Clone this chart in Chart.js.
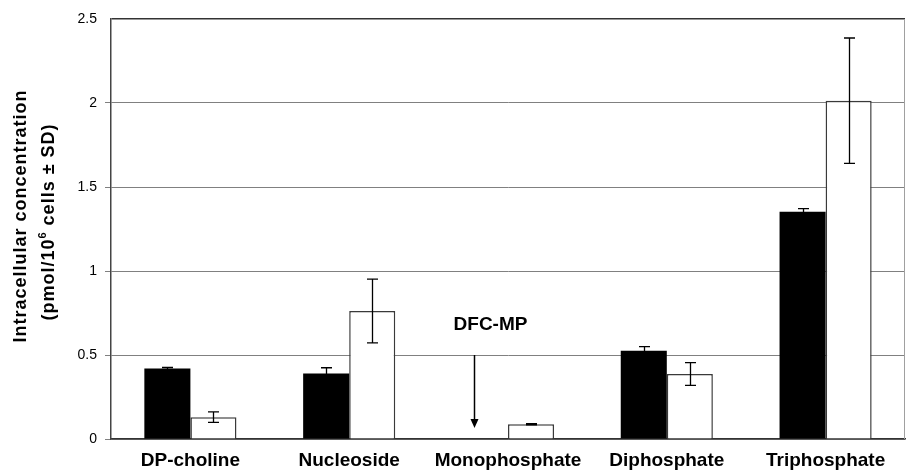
<!DOCTYPE html>
<html>
<head>
<meta charset="utf-8">
<script src="https://cdn.jsdelivr.net/npm/chart.js@4/dist/chart.umd.min.js"></script>
<style>
  html, body { margin: 0; padding: 0; background: #fff; }
  #wrap { width: 907px; height: 471px; position: relative; }
</style>
</head>
<body>
<div id="wrap"><canvas id="c" width="907" height="471"></canvas></div>
<script>
// ---- data ----
const categories = ['DP-choline', 'Nucleoside', 'Monophosphate', 'Diphosphate', 'Triphosphate'];
const blackValues = [0.42, 0.39, 0, 0.526, 1.353];
const blackErrors = [0.006, 0.034, 0, 0.024, 0.018];
const whiteValues = [0.13, 0.762, 0.088, 0.387, 2.014];
const whiteErrors = [0.031, 0.19, 0.004, 0.068, 0.373];
const yTickLabels = ['0', '0.5', '1', '1.5', '2', '2.5'];
const yTitleLine1 = 'Intracellular concentration';
const yTitleLine2 = ['(pmol/10', '6', ' cells \u00B1 SD)'];
const annotationText = 'DFC-MP';
const annotationCategory = 2;
const annotationArrowFrom = 0.5;
const annotationArrowTo = 0.065;
const annotationTextValue = 0.68;

const FONT = '"Liberation Sans", Arial, Helvetica, sans-serif';

const errorBarPlugin = {
  id: 'errorBars',
  afterDatasetsDraw(chart) {
    const ctx = chart.ctx;
    const y = chart.scales.y;
    const errs = [blackErrors, whiteErrors];
    const vals = [blackValues, whiteValues];
    ctx.save();
    ctx.strokeStyle = '#000';
    ctx.lineWidth = 1.3;
    errs.forEach((errArr, di) => {
      const meta = chart.getDatasetMeta(di);
      meta.data.forEach((bar, i) => {
        const e = errArr[i];
        if (!e) return;
        const v = vals[di][i];
        const x = Math.round(bar.x) + 0.5;
        const yt = y.getPixelForValue(v + e);
        const yb = y.getPixelForValue(v - e);
        const cap = 5.5;
        ctx.beginPath();
        ctx.moveTo(x, yt); ctx.lineTo(x, yb);
        ctx.moveTo(x - cap, yt); ctx.lineTo(x + cap, yt);
        ctx.moveTo(x - cap, yb); ctx.lineTo(x + cap, yb);
        ctx.stroke();
      });
    });
    ctx.restore();
  }
};

const decorPlugin = {
  id: 'decor',
  afterDraw(chart) {
    const ctx = chart.ctx;
    const xs = chart.scales.x;
    const ys = chart.scales.y;
    const area = chart.chartArea;
    ctx.save();
    // right border
    ctx.strokeStyle = '#a0a0a0';
    ctx.lineWidth = 1;
    ctx.beginPath();
    ctx.moveTo(area.right - 0.5, area.top);
    ctx.lineTo(area.right - 0.5, area.bottom);
    ctx.stroke();

    // annotation arrow
    const catW = xs.width / categories.length;
    const ax = Math.round(xs.getPixelForValue(annotationCategory) - 0.215 * catW) + 0.5;
    const y1 = ys.getPixelForValue(annotationArrowFrom);
    const y2 = ys.getPixelForValue(annotationArrowTo);
    ctx.strokeStyle = '#000';
    ctx.fillStyle = '#000';
    ctx.lineWidth = 1.5;
    ctx.beginPath();
    ctx.moveTo(ax, y1);
    ctx.lineTo(ax, y2 - 8);
    ctx.stroke();
    ctx.beginPath();
    ctx.moveTo(ax - 4, y2 - 9);
    ctx.lineTo(ax + 4, y2 - 9);
    ctx.lineTo(ax, y2);
    ctx.closePath();
    ctx.fill();

    // annotation text
    ctx.font = 'bold 19px ' + FONT;
    ctx.textAlign = 'center';
    ctx.textBaseline = 'middle';
    ctx.fillText(annotationText, ax + 16, ys.getPixelForValue(annotationTextValue));

    // y axis title (two lines, rotated)
    const midY = (area.top + area.bottom) / 2;
    ctx.font = 'bold 18px ' + FONT;
    try { ctx.letterSpacing = '1px'; } catch (e) {}
    ctx.save();
    ctx.translate(21, midY - 13);
    ctx.rotate(-Math.PI / 2);
    ctx.textAlign = 'center';
    ctx.textBaseline = 'middle';
    ctx.fillText(yTitleLine1, 0, 0);
    ctx.restore();

    ctx.save();
    ctx.translate(49, midY - 7);
    ctx.rotate(-Math.PI / 2);
    ctx.textAlign = 'left';
    ctx.textBaseline = 'middle';
    const mainFont = 'bold 18px ' + FONT;
    const supFont = 'bold 11px ' + FONT;
    ctx.font = mainFont;
    const w0 = ctx.measureText(yTitleLine2[0]).width;
    const w2 = ctx.measureText(yTitleLine2[2]).width;
    ctx.font = supFont;
    const w1 = ctx.measureText(yTitleLine2[1]).width;
    let x0 = -(w0 + w1 + w2) / 2;
    ctx.font = mainFont;
    ctx.fillText(yTitleLine2[0], x0, 0);
    x0 += w0;
    ctx.font = supFont;
    ctx.fillText(yTitleLine2[1], x0, -6);
    x0 += w1;
    ctx.font = mainFont;
    ctx.fillText(yTitleLine2[2], x0, 0);
    ctx.restore();

    ctx.restore();
  }
};

new Chart(document.getElementById('c'), {
  type: 'bar',
  data: {
    labels: categories,
    datasets: [
      {
        label: 'black',
        data: blackValues,
        backgroundColor: '#000000',
        borderWidth: 0,
        categoryPercentage: 0.58,
        barPercentage: 1.0
      },
      {
        label: 'white',
        data: whiteValues,
        backgroundColor: '#ffffff',
        borderColor: '#3a3a3a',
        borderWidth: 1.5,
        categoryPercentage: 0.58,
        barPercentage: 1.0
      }
    ]
  },
  options: {
    responsive: false,
    animation: false,
    devicePixelRatio: 1,
    layout: { padding: { left: 0, right: 2, top: 19, bottom: 0 } },
    plugins: {
      legend: { display: false },
      tooltip: { enabled: false },
      title: { display: false }
    },
    scales: {
      x: {
        grid: { display: false, drawTicks: false },
        border: { display: true, color: '#333333', width: 1.5 },
        ticks: {
          color: '#000',
          font: { family: FONT, size: 19, weight: 'bold' },
          padding: 10,
          autoSkip: false,
          maxRotation: 0,
          minRotation: 0
        },
        afterFit(scale) { scale.height = 32; }
      },
      y: {
        min: 0,
        max: 2.5,
        ticks: {
          stepSize: 0.5,
          color: '#000',
          font: { family: FONT, size: 14 },
          padding: 8,
          callback: (v, i) => yTickLabels[i]
        },
        grid: {
          color: (c) => (c.tick && c.tick.value === 2.5) ? '#333333' : '#808080',
          tickColor: (c) => (c.tick && c.tick.value === 2.5) ? 'rgba(0,0,0,0)' : '#808080',
          lineWidth: (c) => (c.tick && c.tick.value === 2.5) ? 1.5 : 1,
          tickLength: 6,
          drawTicks: true
        },
        border: { display: true, color: '#444444', width: 1.5 },
        afterFit(scale) { scale.width = 111; }
      }
    }
  },
  plugins: [errorBarPlugin, decorPlugin]
});
</script>
</body>
</html>
